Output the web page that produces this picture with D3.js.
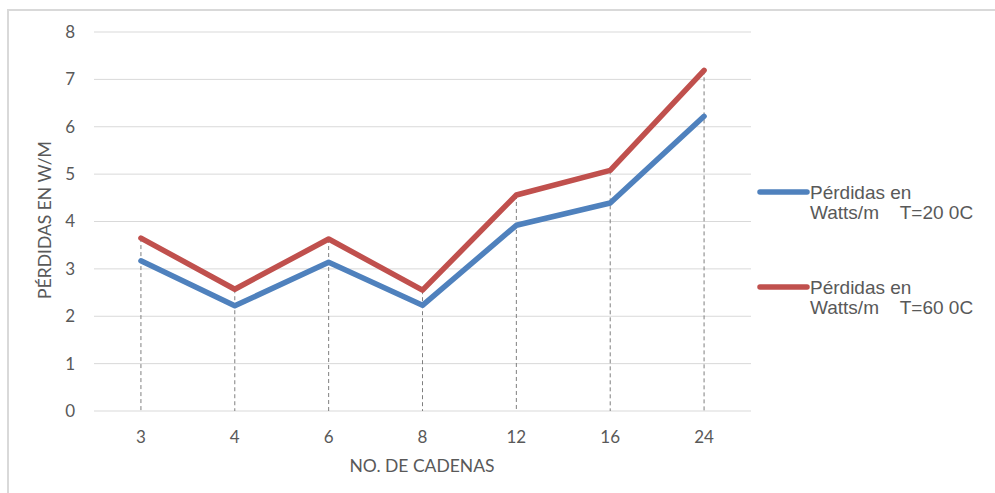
<!DOCTYPE html>
<html><head><meta charset="utf-8">
<script src="https://cdn.jsdelivr.net/npm/d3@7"></script>
<style>body{margin:0;background:#fff}svg{display:block}</style>
</head><body>
<script>
const categories = ["3","4","6","8","12","16","24"];
const seriesNames = ["Pérdidas en|Watts/m    T=20 0C", "Pérdidas en|Watts/m    T=60 0C"];
const values20 = [3.17, 2.22, 3.14, 2.23, 3.92, 4.39, 6.22];
const values60 = [3.65, 2.57, 3.63, 2.55, 4.56, 5.08, 7.19];
const yTicks = [0,1,2,3,4,5,6,7,8];
const colors = ["#4f81bd", "#c0504d"];

const W = 995, H = 493;
const svg = d3.select("body").append("svg").attr("width", W).attr("height", H);
svg.append("path").attr("d", `M8,${H} L8,10 L${W},10`).attr("fill","none").attr("stroke","#d9d9d9").attr("stroke-width",2);

const x = d3.scaleBand().domain(categories).range([94, 751]);
const y = d3.scaleLinear().domain([0, 8]).range([411, 32]);
const cx = d => x(d) + x.bandwidth()/2;
const axisFont = "Lato, 'Open Sans', sans-serif";

// gridlines
svg.append("g").selectAll("line").data(yTicks).join("line")
  .attr("x1", 94).attr("x2", 751).attr("y1", d=>y(d)).attr("y2", d=>y(d))
  .attr("stroke", "#d9d9d9").attr("stroke-width", 1);

// y tick labels
svg.append("g").selectAll("text").data(yTicks).join("text")
  .attr("x", 75).attr("y", d=>y(d)).attr("dy","0.35em").attr("text-anchor","end")
  .attr("font-family",axisFont).attr("font-size",17).attr("fill","#595959")
  .text(d=>d);

// drop lines
svg.append("g").selectAll("line").data(categories).join("line")
  .attr("x1", d=>cx(d)).attr("x2", d=>cx(d))
  .attr("y1", (d,i)=>y(Math.max(values20[i], values60[i]))).attr("y2", y(0))
  .attr("stroke", "#7f7f7f").attr("stroke-width", 1).attr("stroke-dasharray","4,3");

// x tick labels
svg.append("g").selectAll("text").data(categories).join("text")
  .attr("x", d=>cx(d)).attr("y", 437).attr("dy","0.35em").attr("text-anchor","middle")
  .attr("font-family",axisFont).attr("font-size",17).attr("fill","#595959")
  .text(d=>d);

// axis titles
svg.append("text").attr("x", 422).attr("y", 466).attr("dy","0.35em").attr("text-anchor","middle")
  .attr("font-family",axisFont).attr("font-size",17.5).attr("fill","#595959")
  .text("NO. DE CADENAS");
svg.append("text").attr("transform","translate(45,220) rotate(-90)").attr("dy","0.35em").attr("text-anchor","middle")
  .attr("font-family",axisFont).attr("font-size",17.5).attr("fill","#595959")
  .text("PÉRDIDAS EN W/M");

// lines
const line = d3.line().x((d,i)=>cx(categories[i])).y(d=>y(d));
[values20, values60].forEach((vals, k) => {
  svg.append("path").datum(vals).attr("d", line).attr("fill","none")
    .attr("stroke", colors[k]).attr("stroke-width", 5.5)
    .attr("stroke-linejoin","round").attr("stroke-linecap","round");
});

// legend
const legY = [192, 287];
seriesNames.forEach((name, k) => {
  const g = svg.append("g");
  g.append("line").attr("x1", 760).attr("x2", 807).attr("y1", legY[k]).attr("y2", legY[k])
    .attr("stroke", colors[k]).attr("stroke-width", 5.5).attr("stroke-linecap","round");
  const parts = name.split("|");
  parts.forEach((p, j) => {
    g.append("text").attr("x", 810).attr("y", legY[k] + j*20.5).attr("dy","0.35em")
      .attr("font-family","'Liberation Sans', Arial, sans-serif").attr("font-size",19).attr("fill","#595959")
      .style("white-space","pre").text(p);
  });
});
</script>
</body></html>
